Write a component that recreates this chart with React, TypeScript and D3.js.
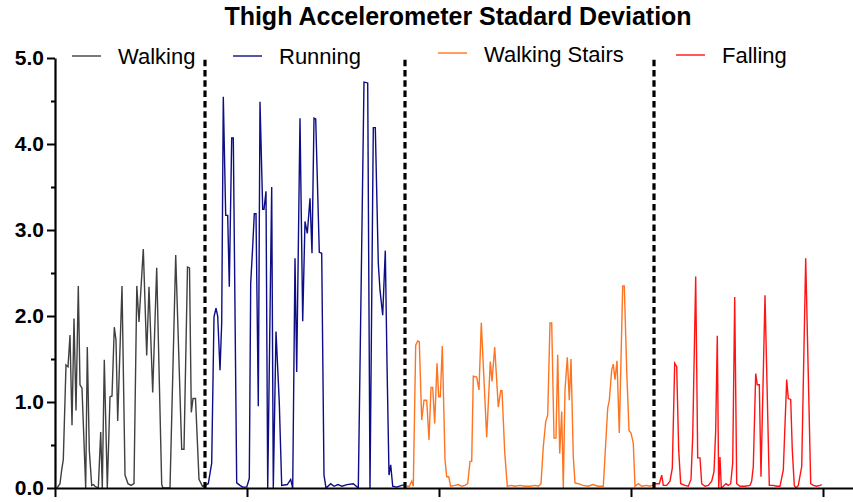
import { useEffect, useRef } from "react";
import * as d3 from "d3";

// [sample, std] pairs
const walking: [number, number][] = [
  [2, 0], [5, 0.05], [6.7, 0.21], [8.3, 0.33], [11, 1.43], [13, 1.41], [15, 1.78], [17, 0.73],
  [19, 1.97], [21, 0.9], [23.3, 2.35], [25, 1.2], [27, 1.16], [30.7, 0], [32.3, 1.64], [34.3, 0.44],
  [36.7, 0.03], [38.5, 0.04], [40, 0.02], [43.3, 0], [45.7, 0.65], [47.3, 0], [49.3, 1.49], [52.3, 0],
  [55, 1.06], [57, 1.07], [59.3, 1.87], [61, 1.72], [62.7, 0.78], [67, 2.35], [70, 0.15], [73, 0.05],
  [76, 0.03], [79, 0.05], [81.8, 2.35], [84, 1.93], [88.3, 2.78], [91.7, 1.54], [94, 2.34], [97.7, 1.11],
  [101.7, 2.56], [106.7, 0.04], [108, 0], [115, 0], [120.7, 2.71], [126.7, 0.45], [129, 0.45],
  [132.5, 2.57], [134.5, 2.56], [136.3, 0.88], [138, 1.04], [140.5, 1.04], [144, 0.1], [147.5, 0.02],
  [150, 0.03],
];

const running: [number, number][] = [
  [150, 0.03], [153.3, 0.05], [156.7, 0.29], [159, 1.99], [161, 2.09], [162.7, 2.0], [165, 1.37],
  [166.7, 1.92], [168.3, 4.55], [170.7, 3.17], [172.7, 3.17], [174.3, 2.34], [176.7, 4.07],
  [178.3, 4.07], [181.7, 0.06], [185, 0.03], [187.7, 0.01], [191.7, 0.01], [194.3, 0.11],
  [195.7, 2.38], [197.7, 2.81], [199.3, 3.19], [201, 3.19], [203.3, 0.95], [205, 4.49], [207.7, 3.24],
  [209, 3.24], [211, 3.45], [212.7, 0], [216.7, 3.5], [218.3, 0], [221, 1.82], [224.3, 0.99],
  [226.7, 0.03], [232.3, 0.04], [235.7, 0.1], [237.7, 0], [240, 2.67], [241.7, 1.35], [245, 4.3],
  [247.7, 1.94], [250, 3.1], [252.3, 2.96], [255, 3.37], [257, 2.73], [259, 4.3], [260.7, 4.29],
  [264.3, 2.74], [266.7, 2.73], [269, 0.15], [271, 0], [275.7, 0.05], [279, 0.02], [283, 0.04],
  [287, 0.02], [292, 0.04], [298.3, 0.05], [303.3, 0], [309, 4.72], [312.7, 4.71], [315, 0],
  [318.3, 4.19], [320.3, 4.19], [323.3, 2.61], [325, 2.3], [327.7, 2.01], [330.3, 2.76], [332, 1.45],
  [334, 0.15], [335.7, 0.27], [337.7, 0.02], [341.7, 0.01], [346.7, 0.03], [350, 0.04],
];

const stairs: [number, number][] = [
  [351.7, 0.02], [354.3, 0.02], [356.7, 0.08], [358.3, 0.02], [360.7, 1.66], [362.7, 1.71],
  [364.3, 1.7], [366.7, 0.79], [369, 1.02], [371.7, 1.02], [374, 0.56], [376, 1.17], [377.7, 1.17],
  [379.7, 0.75], [382, 1.45], [383.7, 1.06], [385.3, 1.06], [387.3, 1.65], [390, 0.33], [391.7, 0.13],
  [393.7, 0.13], [395.7, 0.02], [400, 0.03], [403.3, 0.04], [406.7, 0.02], [410, 0.03], [412.7, 0.05],
  [415, 0.31], [416.7, 0.31], [418.3, 1.3], [421.7, 1.29], [424, 1.14], [426.3, 1.92], [431.7, 0.59],
  [435.3, 1.47], [437, 1.24], [439.7, 1.64], [443.3, 0.94], [445.7, 1.13], [447, 1.13], [449.7, 0.42],
  [452.3, 0.02], [456, 0.03], [460, 0.02], [465, 0.03], [470, 0.02], [475, 0.02], [480, 0.03],
  [483.3, 0.02], [486, 0.05], [488.3, 0.48], [490.7, 0.77], [492.7, 0.85], [495, 1.92], [496.7, 1.92],
  [499, 0.58], [501, 0.58], [502.7, 1.55], [504.7, 0.4], [506.7, 0.89], [508.3, 0], [510, 1.14],
  [512.3, 1.52], [514.3, 1.02], [516, 1.5], [518.3, 0.36], [520, 0.06], [523.3, 0.05], [528, 0.03],
  [533, 0.02], [538, 0.04], [543, 0.02], [548.3, 0.02], [552.7, 0.93], [554.3, 1.02], [556.7, 1.37],
  [558.3, 1.44], [560, 1.26], [562, 1.48], [564.3, 0.64], [567.7, 2.35], [569.3, 2.35], [571.7, 1.37],
  [574, 0.67], [576, 0.64], [578.3, 0.52], [580, 0.02], [583.3, 0.05], [586.7, 0.02], [591.7, 0.03],
  [595, 0.02], [598.5, 0.04],
];

const falling: [number, number][] = [
  [600, 0.05], [604.3, 0.05], [606.7, 0.15], [608.3, 0.03], [611.7, 0.03], [615, 0.08], [617.3, 0.23],
  [619.7, 1.45], [621.7, 1.41], [623.7, 0.44], [625.7, 0.05], [630, 0.03], [633.3, 0.02], [636, 0.1],
  [637.7, 0.6], [640.7, 2.46], [642.7, 0.35], [645, 0.35], [646.7, 0.05], [650, 0.02], [653.3, 0.03],
  [656.7, 0.08], [659, 0.19], [660.7, 0.67], [662.3, 1.77], [663.7, 0], [665, 0.36], [666.3, 0],
  [668.3, 0.02], [671, 0.05], [673.3, 0.03], [675.7, 0.05], [677.7, 0.29], [679.7, 2.22], [681.7, 0.05],
  [685, 0.02], [690, 0.02], [695, 0.03], [696.7, 0.08], [698.3, 0.25], [700.7, 1.33], [702.3, 1.2],
  [704.3, 1.2], [706, 0.13], [710, 2.24], [714.3, 0.03], [718, 0.03], [722, 0.02], [725, 0.02],
  [728.3, 0.21], [731.7, 1.26], [733.3, 1.04], [735.7, 1.03], [737.3, 0.44], [739.3, 0.03], [741, 0],
  [743.3, 0.03], [746.7, 0.25], [750.7, 2.67], [755.7, 0.05], [758.3, 0.03], [761.7, 0.02],
  [765, 0.03], [766.7, 0.04],
];

const names = ["Walking", "Running", "Walking Stairs", "Falling"];
const colors = ["#404040", "#0d0d85", "#ff7420", "#ff1414"];
const dividers = [150, 350, 599];
const yTicks = [0, 1, 2, 3, 4, 5];
const yMinor = [0.5, 1.5, 2.5, 3.5, 4.5];
const xTicks = [0, 192, 384, 576, 768];

const title = "Thigh Accelerometer Stadard Deviation";

const width = 853;
const height = 502;
const font = "'Liberation Sans', Arial, sans-serif";

// legend layout (line start, text start, baseline)
const legendPos = [
  { x: 72, tx: 118, y: 56, ty: 64 },
  { x: 233, tx: 279, y: 56, ty: 64 },
  { x: 438, tx: 484, y: 53, ty: 62 },
  { x: 676, tx: 722, y: 55, ty: 63 },
];

const App = () => {
  const svgRef = useRef<SVGSVGElement>(null);

  useEffect(() => {
    const svg = d3.select(svgRef.current);
    svg.selectAll("*").remove();

    const x = d3.scaleLinear().domain([0, 798]).range([55, 853]);
    const y = d3.scaleLinear().domain([0, 5]).range([488, 58]);

    const line = d3
      .line<[number, number]>()
      .x((d) => x(d[0]))
      .y((d) => y(d[1]));

    [walking, running, stairs, falling].forEach((s, i) => {
      svg
        .append("path")
        .datum(s)
        .attr("fill", "none")
        .attr("stroke", colors[i])
        .attr("stroke-width", 1.4)
        .attr("d", line);
    });

    svg
      .selectAll(".divider")
      .data(dividers)
      .enter()
      .append("line")
      .attr("x1", (d) => x(d))
      .attr("x2", (d) => x(d))
      .attr("y1", y(4.98))
      .attr("y2", y(0))
      .attr("stroke", "black")
      .attr("stroke-width", 3.2)
      .attr("stroke-dasharray", "6.5 3.8");

    // axes
    const yAxis = svg
      .append("g")
      .attr("transform", `translate(${x(0)},0)`)
      .call(
        d3
          .axisLeft(y)
          .tickValues(yTicks)
          .tickSize(8)
          .tickSizeOuter(0)
          .tickPadding(3)
          .tickFormat(d3.format(".1f"))
      );
    yAxis.select(".domain").attr("stroke-width", 2.2);
    yAxis.selectAll(".tick line").attr("stroke-width", 2);
    yAxis
      .selectAll("text")
      .attr("font-family", font)
      .attr("font-size", 21)
      .attr("font-weight", "bold")
      .attr("fill", "black");

    const yMinorAxis = svg
      .append("g")
      .attr("transform", `translate(${x(0)},0)`)
      .call(d3.axisLeft(y).tickValues(yMinor).tickSize(4).tickSizeOuter(0).tickFormat(() => ""));
    yMinorAxis.select(".domain").remove();
    yMinorAxis.selectAll(".tick line").attr("stroke-width", 2);

    const xAxis = svg
      .append("g")
      .attr("transform", `translate(0,${y(0)})`)
      .call(d3.axisBottom(x).tickValues(xTicks).tickSize(9).tickSizeOuter(0).tickFormat(() => ""));
    xAxis.select(".domain").attr("stroke-width", 2.2);
    xAxis.selectAll(".tick line").attr("stroke-width", 2);

    // title
    svg
      .append("text")
      .attr("x", 458)
      .attr("y", 25)
      .attr("text-anchor", "middle")
      .attr("font-family", font)
      .attr("font-size", 25)
      .attr("font-weight", "bold")
      .text(title);

    // legend
    const legend = svg
      .selectAll(".legend")
      .data(names)
      .enter()
      .append("g");
    legend
      .append("line")
      .attr("x1", (_, i) => legendPos[i].x)
      .attr("x2", (_, i) => legendPos[i].x + 29)
      .attr("y1", (_, i) => legendPos[i].y)
      .attr("y2", (_, i) => legendPos[i].y)
      .attr("stroke", (_, i) => colors[i])
      .attr("stroke-width", 1.4);
    legend
      .append("text")
      .attr("x", (_, i) => legendPos[i].tx)
      .attr("y", (_, i) => legendPos[i].ty)
      .attr("font-family", font)
      .attr("font-size", 22)
      .attr("fill", "black")
      .text((d) => d);
  }, []);

  return (
    <svg
      ref={svgRef}
      width={width}
      height={height}
      style={{ position: "absolute", left: 0, top: 0, background: "white" }}
    ></svg>
  );
};

export default App;
